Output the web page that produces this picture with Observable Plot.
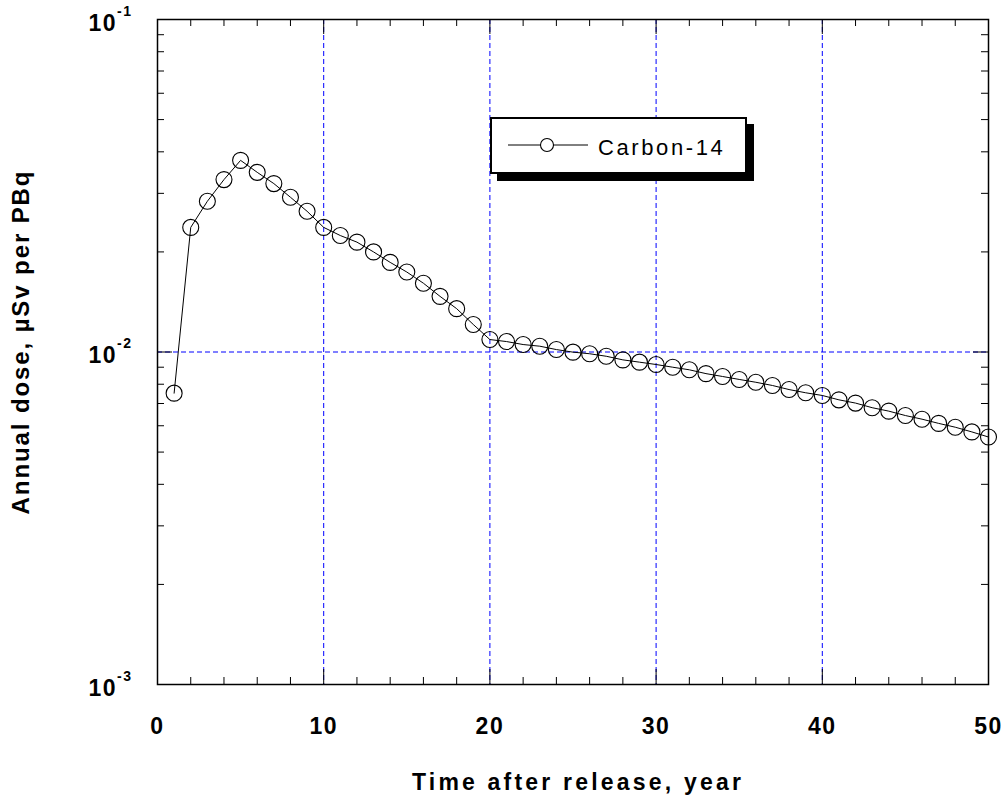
<!DOCTYPE html>
<html>
<head>
<meta charset="utf-8">
<script src="https://cdn.jsdelivr.net/npm/d3@7"></script>
<script src="https://cdn.jsdelivr.net/npm/@observablehq/plot@0.6"></script>
<style>
  html, body { margin: 0; padding: 0; background: #fff; }
  #wrap { position: relative; width: 1008px; height: 800px; font-family: "Liberation Sans", Arial, sans-serif; }
  #legend { position: absolute; left: 490px; top: 117px; width: 253px; height: 53px; border: 2px solid #000; background: #fff; box-shadow: 7px 7px 0 #000; }
  #legend svg { position: absolute; left: 16px; top: 0; }
  #legend span { position: absolute; left: 106px; top: 18px; font-size: 22px; line-height: 22px; letter-spacing: 2.6px; color: #000; white-space: nowrap; }
</style>
</head>
<body>
<div id="wrap"></div>
<script>
// ---- data ----
const years = [1,2,3,4,5,6,7,8,9,10,11,12,13,14,15,16,17,18,19,20,21,22,23,24,25,26,27,28,29,30,31,32,33,34,35,36,37,38,39,40,41,42,43,44,45,46,47,48,49,50];
const dose = [0.00752,0.0237,0.0284,0.0330,0.0377,0.0347,0.0321,0.0292,0.0265,0.0237,
              0.0224,0.0214,0.0200,0.0186,0.0174,0.0161,0.0147,0.0135,0.0121,0.0109,
              0.01075,0.01053,0.01041,0.01017,0.00999,0.00988,0.00971,0.00947,0.00932,0.00917,
              0.00900,0.00884,0.00861,0.00844,0.00827,0.00811,0.00793,0.00771,0.00754,0.00740,
              0.00718,0.00702,0.00680,0.00664,0.00644,0.00628,0.00610,0.00594,0.00575,0.00555];
const seriesName = "Carbon-14";
const xTickLabels = [0,10,20,30,40,50];
const xGrid = [10,20,30,40];
const xMinor = [2,4,6,8,12,14,16,18,22,24,26,28,32,34,36,38,42,44,46,48];
const yTickLabels = [0.001,0.01,0.1];
const yGrid = [0.01];
const yMinor = [0.002,0.003,0.004,0.005,0.006,0.007,0.008,0.009,0.02,0.03,0.04,0.05,0.06,0.07,0.08,0.09];
const xTitle = "Time after release, year";
const yTitle = "Annual dose, µSv per PBq";

const table = years.map((t, i) => ({t, v: dose[i]}));

const W = 1008, H = 800, mL = 157, mR = 20, mT = 19, mB = 116;
const innerH = H - mT - mB, innerW = W - mL - mR;
const minorLen = 7, majorLen = 15;

const chart = Plot.plot({
  width: W, height: H,
  marginLeft: mL, marginRight: mR, marginTop: mT, marginBottom: mB,
  style: {fontFamily: "'Liberation Sans', Arial, sans-serif", background: "#fff", color: "#000"},
  x: {domain: [0, 50]},
  y: {type: "log", domain: [0.001, 0.1]},
  marks: [
    Plot.ruleX(xGrid, {x: d => d, stroke: "#0000ff", strokeWidth: 1, strokeDasharray: "5,3"}),
    Plot.ruleY(yGrid, {y: d => d, stroke: "#0000ff", strokeWidth: 1, strokeDasharray: "5,3"}),
    // ticks (inward) bottom/top
    Plot.tickX(xMinor, {x: d => d, insetTop: innerH - minorLen, stroke: "#000", strokeWidth: 1}),
    Plot.tickX(xMinor, {x: d => d, insetBottom: innerH - minorLen, stroke: "#000", strokeWidth: 1}),
    Plot.tickX(xTickLabels, {x: d => d, insetTop: innerH - majorLen, stroke: "#000", strokeWidth: 1}),
    Plot.tickX(xTickLabels, {x: d => d, insetBottom: innerH - majorLen, stroke: "#000", strokeWidth: 1}),
    // ticks left/right
    Plot.tickY(yMinor, {y: d => d, insetRight: innerW - minorLen, stroke: "#000", strokeWidth: 1}),
    Plot.tickY(yMinor, {y: d => d, insetLeft: innerW - minorLen, stroke: "#000", strokeWidth: 1}),
    Plot.tickY(yTickLabels, {y: d => d, insetRight: innerW - majorLen, stroke: "#000", strokeWidth: 1}),
    Plot.tickY(yTickLabels, {y: d => d, insetLeft: innerW - majorLen, stroke: "#000", strokeWidth: 1}),
    Plot.frame({stroke: "#000", strokeWidth: 1.5}),
    Plot.line(table, {x: "t", y: "v", stroke: "#000", strokeWidth: 1}),
    Plot.dot(table, {x: "t", y: "v", r: 8, stroke: "#000", fill: "none", strokeWidth: 1.1}),
    Plot.axisX(xTickLabels, {tickSize: 0, tickPadding: 33, fontSize: 23, fontWeight: "bold", label: null, tickFormat: d => String(d)}),
    Plot.axisY(yTickLabels, {tickSize: 0, tickPadding: 25, dy: 4, fontSize: 23, fontWeight: "bold", label: null,
      tickFormat: d => "10^" + Math.round(Math.log10(d))}),
    Plot.text([xTitle], {frameAnchor: "bottom", textAnchor: "middle", dy: 105, dx: 5, fontSize: 23, fontWeight: "bold", fill: "#000"}),
    Plot.text([yTitle], {frameAnchor: "left", textAnchor: "middle", lineAnchor: "middle", rotate: -90, dx: -136, dy: -10, fontSize: 24, fontWeight: "bold", fill: "#000"})
  ]
});

const wrap = document.getElementById("wrap");
wrap.appendChild(chart);

const svg = d3.select(chart);
// superscript exponents on y tick labels
svg.selectAll('g[aria-label="y-axis tick label"] text').each(function() {
  const s = this.textContent;
  const exp = s.split("^")[1];
  const el = d3.select(this);
  el.text("10").style("letter-spacing", "1.5px");
  el.append("tspan").attr("dy", -15).attr("font-size", 14).text(exp);
});
svg.selectAll('g[aria-label="x-axis tick label"] text').style("letter-spacing", "1.5px");
const titles = svg.selectAll('g[aria-label="text"] text').nodes();
if (titles[0]) titles[0].style.letterSpacing = "3.2px";
if (titles[1]) titles[1].style.letterSpacing = "1.9px";

// legend
const legend = document.createElement("div");
legend.id = "legend";
const ls = d3.create("svg").attr("width", 84).attr("height", 53);
ls.append("line").attr("x1", 0).attr("x2", 80).attr("y1", 26).attr("y2", 26).attr("stroke", "#000").attr("stroke-width", 1);
ls.append("circle").attr("cx", 39).attr("cy", 26).attr("r", 6.5).attr("fill", "#fff").attr("stroke", "#000").attr("stroke-width", 1.1);
legend.appendChild(ls.node());
const span = document.createElement("span");
span.textContent = seriesName;
legend.appendChild(span);
wrap.appendChild(legend);
</script>
</body>
</html>
